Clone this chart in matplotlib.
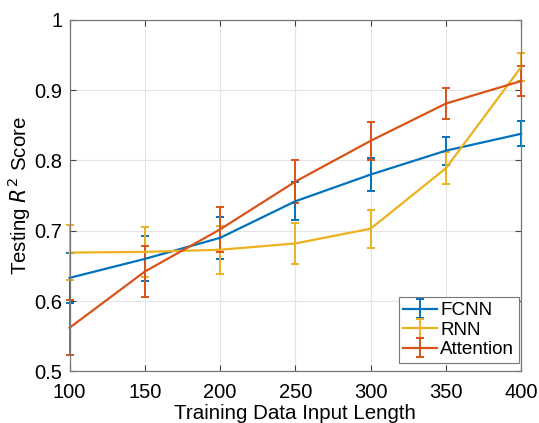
import numpy as np
from matplotlib import pyplot as plt

plt.rcParams['font.family'] = ['Liberation Sans', 'DejaVu Sans']

input_length = [100, 150, 200, 250, 300, 350, 400]

fcnn_mean = [0.633, 0.660, 0.690, 0.742, 0.780, 0.814, 0.838]
fcnn_err = [0.036, 0.032, 0.030, 0.027, 0.024, 0.020, 0.018]

rnn_mean = [0.669, 0.670, 0.673, 0.682, 0.703, 0.789, 0.933]
rnn_err = [0.039, 0.036, 0.034, 0.029, 0.027, 0.023, 0.020]

att_mean = [0.562, 0.642, 0.702, 0.770, 0.828, 0.881, 0.913]
att_err = [0.039, 0.036, 0.032, 0.031, 0.027, 0.022, 0.021]

y_ticks = [0.5, 0.6, 0.7, 0.8, 0.9, 1.0]
y_tick_labels = ['0.5', '0.6', '0.7', '0.8', '0.9', '1']

fig = plt.figure(figsize=(5.39, 4.23), dpi=100)
ax = fig.add_axes([0.129, 0.122, 0.838, 0.831])

series = [
    (fcnn_mean, fcnn_err, '#0072BD', 'FCNN'),
    (rnn_mean, rnn_err, '#EDB120', 'RNN'),
    (att_mean, att_err, '#D95319', 'Attention'),
]
for mean, err, color, name in series:
    eb = ax.errorbar(input_length, mean, yerr=err, color=color, lw=1.6,
                     elinewidth=1.4, capsize=3, capthick=1.4, label=name)
    for art in eb.get_children():
        art.set_clip_on(False)

ax.set_xlim(100, 400)
ax.set_ylim(0.5, 1.0)
ax.set_xticks(input_length)
ax.set_yticks(y_ticks)
ax.set_yticklabels(y_tick_labels)
ax.grid(True, color='#e3e3e3', lw=0.8)
ax.set_axisbelow(True)
ax.tick_params(direction='in', top=True, right=True, labelsize=14.5,
               color='#444444', length=4, pad=5)
ax.tick_params(axis='x', pad=8)
for s in ax.spines.values():
    s.set_color('#777777')
    s.set_linewidth(0.9)

ax.set_xlabel('Training Data Input Length', fontsize=14.8)
ax.set_ylabel('Testing $R^2$ Score', fontsize=14.8)
ax.xaxis.set_label_coords(0.5, -0.093)
ax.yaxis.set_label_coords(-0.081, 0.5)

leg = ax.legend(loc='lower right', bbox_to_anchor=(0.995, 0.024),
                fontsize=13.6, fancybox=False, edgecolor='#777777',
                framealpha=1, handlelength=1.8, handletextpad=0.15,
                borderpad=0.25, labelspacing=0.12, borderaxespad=0)
leg.get_frame().set_linewidth(0.8)

fig.savefig('out.png', dpi=100)
